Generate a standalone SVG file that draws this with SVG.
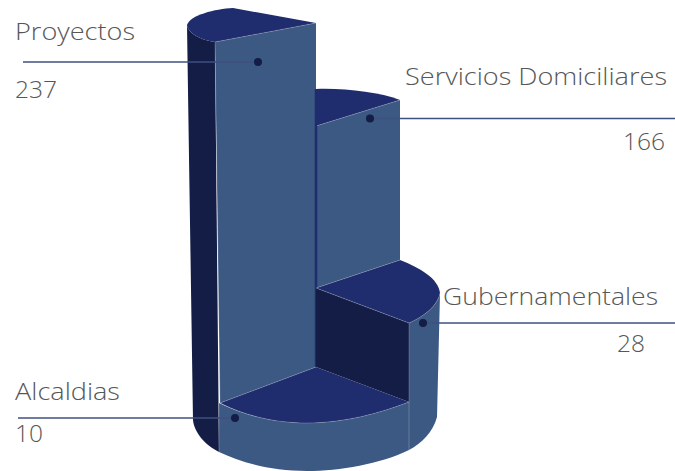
<svg xmlns="http://www.w3.org/2000/svg" width="675" height="471" viewBox="0 0 675 471">
<style>
.top{fill:#1f2d6e}
.lite{fill:#3c5983}
.dark{fill:#131d45}
.edge{fill:none;stroke:#ffffff;stroke-opacity:0.25;stroke-width:0.8}
.lbl{font-family:"Open Sans","Liberation Sans",sans-serif;font-weight:300;font-size:24px;fill:#575757}
.conn{stroke:#3f4f80;stroke-width:1.7;fill:none}
.dot{fill:#131d45}
</style>
<rect width="675" height="471" fill="#ffffff"/>
<g id="proyectos">
<path class="dark" d="M187,25 C188,33 200,40 215,42 L219,452 C205,445 194,432 193,420 Z"/>
<path class="lite" d="M215,42 L316,23 L316,367 L220,403 Z"/>
<path class="top" d="M187,25 C190,15 215,9 233,8 L316,23 L215,42 C200,40 188,33 187,25 Z"/>
<path class="edge" d="M316,23 L215,42 L220,403"/>
</g>
<g id="servicios">
<path class="lite" d="M316,126 L400,100 L400,260 L316,288 Z"/>
<path class="top" d="M316,89 C345,88 378,92 400,100 L316,126 Z"/>
<path class="edge" d="M316,126 L400,100"/>
<line x1="316" y1="89" x2="316" y2="367" stroke="#1f2d6e" stroke-width="2.5"/>
</g>
<g id="gubernamentales">
<path class="dark" d="M316,288 L409,323 L409,402 L316,367 Z"/>
<path class="lite" d="M409,323 C425,316 438,305 440,293 L437,417 C433,432 422,443 409,450 Z"/>
<path class="top" d="M316,288 L400,260 C420,268 438,278 440,293 C438,305 425,316 409,323 Z"/>
<path class="edge" d="M316,288 L400,260 M316,288 L409,323 C425,316 438,305 440,293 M409,323 L409,402"/>
</g>
<g id="alcaldias">
<path class="lite" d="M219,403 C250,418 280,423 307,423 C345,423 380,413 409,402 L409,450 C380,464 340,471 307,471 C270,471 240,462 219,452 Z"/>
<path class="top" d="M316,367 L409,402 C380,413 345,423 307,423 C280,423 250,418 220,403 Z"/>
<path class="edge" d="M409,402 C380,413 345,423 307,423 C280,423 250,418 220,403 L316,367 M219,403 L219,452 M409,402 L409,450"/>
</g>
<g id="connectors">
<line class="conn" x1="23" y1="62" x2="258" y2="62"/>
<circle class="dot" cx="258" cy="62" r="4"/>
<line class="conn" x1="370" y1="118.5" x2="675" y2="118.5"/>
<circle class="dot" cx="370" cy="118.5" r="4"/>
<line class="conn" x1="423" y1="323" x2="675" y2="323"/>
<circle class="dot" cx="423" cy="323" r="4"/>
<line class="conn" x1="18" y1="418" x2="235" y2="418"/>
<circle class="dot" cx="235" cy="418" r="4"/>
</g>
<g id="labels">
<text class="lbl" x="15" y="40" textLength="120" lengthAdjust="spacingAndGlyphs">Proyectos</text>
<text class="lbl" x="15" y="98" textLength="42" lengthAdjust="spacingAndGlyphs">237</text>
<text class="lbl" x="405" y="85" textLength="262" lengthAdjust="spacingAndGlyphs">Servicios Domiciliares</text>
<text class="lbl" x="623" y="150" textLength="42" lengthAdjust="spacingAndGlyphs">166</text>
<text class="lbl" x="443" y="305" textLength="215" lengthAdjust="spacingAndGlyphs">Gubernamentales</text>
<text class="lbl" x="617" y="352" textLength="28" lengthAdjust="spacingAndGlyphs">28</text>
<text class="lbl" x="15" y="400" textLength="105" lengthAdjust="spacingAndGlyphs">Alcaldias</text>
<text class="lbl" x="15" y="442" textLength="28" lengthAdjust="spacingAndGlyphs">10</text>
</g>
</svg>
